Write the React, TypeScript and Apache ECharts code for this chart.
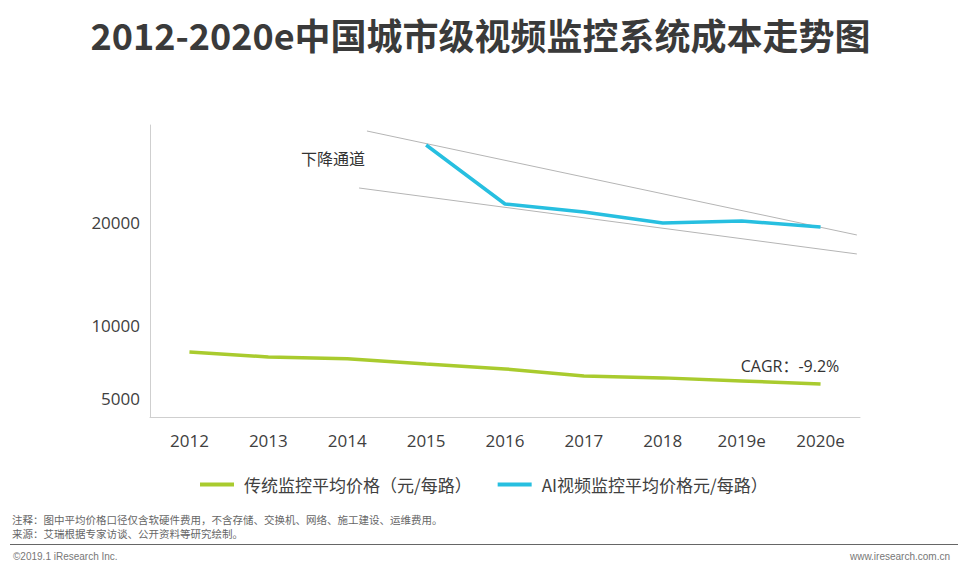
import React, { useEffect, useRef } from "react";
import * as echarts from "echarts";

const categories = ["2012", "2013", "2014", "2015", "2016", "2017", "2018", "2019e", "2020e"];
const traditionalCost = [8010, 7650, 7520, 7170, 6840, 6380, 6260, 6070, 5880];
const aiCost = [null, null, null, 29650, 22090, 21150, 19890, 20120, 19440];
const yTicks = [5000, 10000, 20000];
const yRange = [4030, 32470];
// channel lines: [category position, value]
const channelUpper = [[2.25, 31610], [8.46, 18560]];
const channelLower = [[2.15, 24030], [8.46, 16550]];

const TITLE = "2012-2020e中国城市级视频监控系统成本走势图";
const NOTE1 = "注释：图中平均价格口径仅含软硬件费用，不含存储、交换机、网络、施工建设、运维费用。";
const NOTE2 = "来源：艾瑞根据专家访谈、公开资料等研究绘制。";

const FONT = "'Open Sans', 'Noto Sans CJK SC', sans-serif";
const CJK = "'Noto Sans CJK SC', 'Open Sans', sans-serif";

const tf = (v: number | null) => (v == null ? null : Math.sqrt(v));

export default function App() {
  const ref = useRef<HTMLDivElement>(null);
  useEffect(() => {
    const chart = echarts.init(ref.current!, null, { renderer: "svg" });
    chart.setOption({
      animation: false,
      backgroundColor: "#fff",
      textStyle: { fontFamily: FONT },
      grid: { left: 150, right: 101, top: 125, bottom: 149, containLabel: false },
      xAxis: [
        {
          type: "category",
          data: categories,
          boundaryGap: true,
          axisLine: { show: true, onZero: false, lineStyle: { color: "#cfcfcf", width: 1 } },
          axisTick: { show: false },
          axisLabel: { color: "#404040", fontSize: 17, margin: 15, fontFamily: FONT },
          splitLine: { show: false },
        },
        {
          type: "value",
          min: -0.5,
          max: 8.5,
          show: false,
          position: "bottom",
          axisLine: { onZero: false },
        },
      ],
      yAxis: {
        type: "value",
        min: tf(yRange[0]),
        max: tf(yRange[1]),
        axisLine: { show: true, onZero: false, lineStyle: { color: "#cfcfcf", width: 1 } },
        axisTick: { show: false },
        splitLine: { show: false },
        axisLabel: {
          customValues: yTicks.map((v) => Math.sqrt(v)),
          formatter: (v: number) => String(Math.round((v * v) / 100) * 100),
          color: "#404040",
          fontSize: 17,
          margin: 10,
          fontFamily: FONT,
        },
      },
      legend: {
        bottom: 68,
        left: 195,
        itemWidth: 34,
        itemHeight: 4,
        itemGap: 26,
        icon: "rect",
        data: ["传统监控平均价格（元/每路）", "AI视频监控平均价格元/每路）"],
        textStyle: { color: "#404040", fontSize: 17, fontFamily: CJK, padding: [0, 0, 0, 5] },
      },
      series: [
        {
          name: "上沿",
          type: "line",
          xAxisIndex: 1,
          data: channelUpper.map(([x, y]) => [x, tf(y)]),
          symbol: "none",
          lineStyle: { color: "#b5b5b5", width: 1 },
          silent: true,
          z: 1,
        },
        {
          name: "下沿",
          type: "line",
          xAxisIndex: 1,
          data: channelLower.map(([x, y]) => [x, tf(y)]),
          symbol: "none",
          lineStyle: { color: "#b5b5b5", width: 1 },
          silent: true,
          z: 1,
        },
        {
          name: "传统监控平均价格（元/每路）",
          type: "line",
          data: traditionalCost.map(tf),
          symbol: "none",
          itemStyle: { color: "#a9cb2e" },
          lineStyle: { color: "#a9cb2e", width: 3.5 },
          z: 3,
        },
        {
          name: "AI视频监控平均价格元/每路）",
          type: "line",
          data: aiCost.map(tf),
          symbol: "none",
          connectNulls: false,
          itemStyle: { color: "#27bfe0" },
          lineStyle: { color: "#27bfe0", width: 3.5 },
          z: 3,
        },
      ],
      graphic: [
        {
          type: "text",
          left: "center",
          top: 16,
          style: { text: TITLE, fontSize: 36, fontWeight: "bold", fill: "#3a3a3a", fontFamily: CJK },
        },
        {
          type: "text",
          x: 333,
          y: 158,
          style: { text: "下降通道", fontSize: 16, fill: "#333", fontFamily: CJK, align: "center", verticalAlign: "middle" },
        },
        {
          type: "text",
          x: 790,
          y: 366,
          style: { text: "CAGR：-9.2%", fontSize: 16, fill: "#333", fontFamily: FONT, align: "center", verticalAlign: "middle" },
        },
        {
          type: "text",
          x: 12,
          y: 519,
          style: { text: NOTE1, fontSize: 10.5, fill: "#666", fontFamily: CJK, verticalAlign: "middle" },
        },
        {
          type: "text",
          x: 12,
          y: 533,
          style: { text: NOTE2, fontSize: 10.5, fill: "#666", fontFamily: CJK, verticalAlign: "middle" },
        },
        {
          type: "line",
          shape: { x1: 10, y1: 544.5, x2: 958, y2: 544.5 },
          style: { stroke: "#666", lineWidth: 1 },
        },
        {
          type: "text",
          x: 13,
          y: 556,
          style: { text: "©2019.1 iResearch Inc.", fontSize: 10, fill: "#777", fontFamily: "'Liberation Sans', Arial, sans-serif", verticalAlign: "middle" },
        },
        {
          type: "text",
          x: 950,
          y: 556,
          style: { text: "www.iresearch.com.cn", fontSize: 10, fill: "#777", fontFamily: "'Liberation Sans', Arial, sans-serif", align: "right", verticalAlign: "middle" },
        },
      ],
    });
    return () => chart.dispose();
  }, []);
  return (
    <div
      ref={ref}
      style={{ position: "fixed", left: 0, top: 0, width: 961, height: 566, background: "#fff" }}
    />
  );
}
